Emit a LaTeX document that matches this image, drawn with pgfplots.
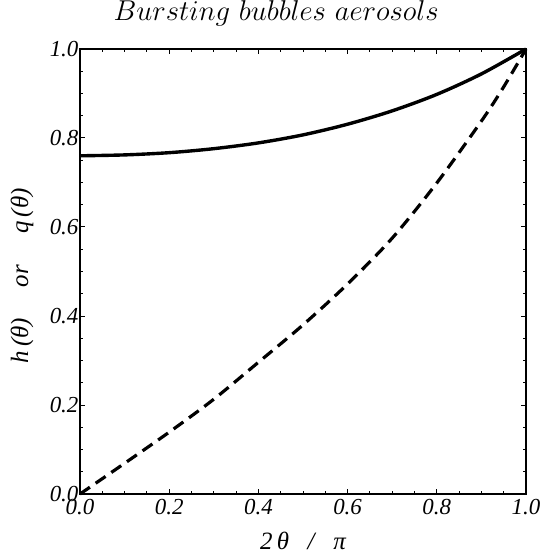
\documentclass[border=0pt]{standalone}
\usepackage{pgfplots}
\pgfplotsset{compat=1.18}
\usepackage{fontspec}
\newfontfamily\tnr{Liberation Serif}
\begin{document}
\begin{tikzpicture}
\useasboundingbox (-40bp,-33bp) rectangle (230.5bp,247bp);
\begin{axis}[
  at={(0,0)}, anchor=south west,
  scale only axis,
  width=223bp, height=222.5bp,
  xmin=0, xmax=1, ymin=0, ymax=1,
  clip=false,
  axis line style={line width=0.7pt},
  every tick/.style={black, line width=0.5pt},
  major tick length=2.4bp,
  minor tick length=1.4bp,
  tick align=inside,
  xtick={0,0.2,...,1.0}, ytick={0,0.2,...,1.0},
  minor tick num=3,
  /pgf/number format/assume math mode=true,
  /pgf/number format/.cd, fixed, fixed zerofill, precision=1, /pgfplots/.cd,
  xticklabel style={font=\tnr\itshape\fontsize{11.5}{13}\selectfont, inner ysep=2.5pt},
  yticklabel style={font=\tnr\itshape\fontsize{11.5}{13}\selectfont, inner xsep=0.6pt},
  title={$Bursting\ bubbles\ aerosols$},
  title style={font=\fontsize{13.8}{16}\selectfont, at={(axis description cs:0.44,1)}, anchor=center, yshift=12bp},
  xlabel={2\,θ\ \ \ /\ \ \ π},
  xlabel style={font=\tnr\itshape\fontsize{12.5}{14}\selectfont, at={(axis description cs:0.5,0)}, anchor=center, yshift=-23.5bp},
  ylabel={h\,(θ)\hspace{1.25em}or\hspace{1.25em}q\,(θ)},
  ylabel style={font=\tnr\itshape\fontsize{12.5}{14}\selectfont, at={(axis description cs:0,0.49)}, anchor=center, yshift=29bp},
]
\addplot[black, line width=1.7pt, smooth] coordinates {
(0,0.760) (0.1,0.762) (0.2,0.767) (0.3,0.776) (0.4,0.789) (0.5,0.807)
(0.6,0.831) (0.7,0.861) (0.8,0.898) (0.9,0.944) (1.0,1.0)};
\addplot[black, line width=1.6pt, dash pattern=on 6bp off 3.5bp, smooth] coordinates {
(0,0) (0.1,0.069) (0.2,0.139) (0.3,0.213) (0.4,0.296) (0.5,0.380)
(0.6,0.472) (0.7,0.575) (0.8,0.699) (0.9,0.838) (0.95,0.915) (1.0,1.0)};
\end{axis}
\end{tikzpicture}
\end{document}
